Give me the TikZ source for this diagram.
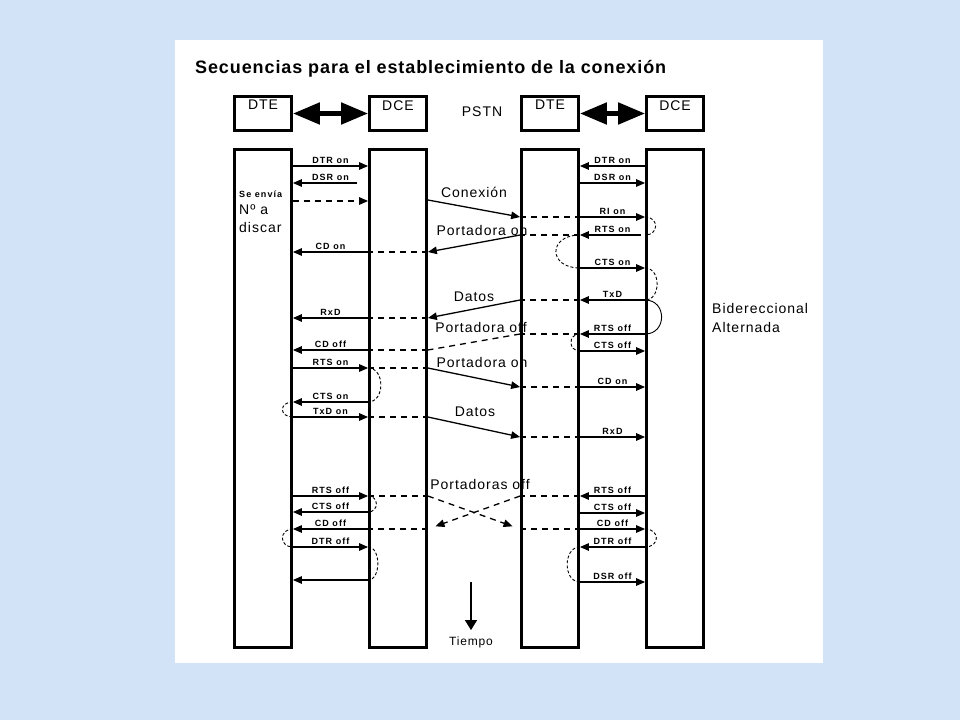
\documentclass[tikz,border=0pt]{standalone}
\usepackage{fontspec}
\setmainfont{Liberation Sans}
\newfontfamily\sigfont[LetterSpace=12]{Liberation Sans}
\newfontfamily\txtfont[LetterSpace=7]{Liberation Sans}
\newfontfamily\ttlfont[LetterSpace=5]{Liberation Sans}
\usetikzlibrary{arrows.meta,positioning}
\definecolor{bgblue}{RGB}{210,227,247}
\tikzset{
  hdr/.style={draw, line width=2.8pt, minimum width=57pt, minimum height=34pt, inner sep=0pt},
  col/.style={draw, line width=2.8pt, minimum width=57pt, minimum height=498pt, inner sep=0pt},
  hdrtxt/.style={font=\txtfont\fontsize{14}{16}\selectfont, inner sep=2pt},
  ptxt/.style={font=\txtfont\fontsize{14}{16}\selectfont, inner sep=0pt},
  lbl/.style={midway, above=1pt, inner sep=1pt, font=\sigfont\bfseries\fontsize{9}{10}\selectfont},
  link/.style={line width=5pt, {Triangle[length=27pt,width=21pt]}-{Triangle[length=27pt,width=21pt]}},
  sig/.style={line width=1.3pt, -{Triangle[length=9pt,width=7.5pt]}},
  dsh/.style={line width=1.3pt, dash pattern=on 6pt off 5pt},
  dsharr/.style={dsh, -{Triangle[length=9pt,width=7.5pt]}},
  loopd/.style={line width=0.9pt, dash pattern=on 3pt off 2pt},
  loops/.style={line width=0.9pt},
  timearr/.style={line width=1.3pt, -{Triangle[length=10pt,width=12pt]}},
}

\begin{document}
\begin{tikzpicture}[x=1pt, y=-1pt]
  \useasboundingbox (0,0) rectangle (960,720);
  \fill[bgblue] (0,0) rectangle (960,720);
  \fill[white] (175,40) rectangle (823,663);
  \node[anchor=base west, inner sep=0pt, font=\ttlfont\bfseries\fontsize{18}{21}\selectfont] (title) at (195,73)
    {Secuencias para el establecimiento de la conexión};

  % line texts (the columns are drawn over them)
  \node[ptxt] (conex) at (474,192) {Conexión};
  \node[ptxt] (pon1) at (482,230) {Portadora on};
  \node[ptxt] (dat1) at (474,297) {Datos};
  \node[ptxt] (poff) at (481,327) {Portadora off};
  \node[ptxt] (pon2) at (482,362) {Portadora on};
  \node[ptxt] (dat2) at (475,412) {Datos};
  \node[ptxt] (poffs) at (480,484) {Portadoras off};

  % headers
  \node[hdr] (hA) at (263,113.5) {};
  \node[hdr] (hB) at (398,113.5) {};
  \node[hdr] (hC) at (550,113.5) {};
  \node[hdr] (hD) at (675,113.5) {};
  \node[hdrtxt, below=3pt of hA.north] (tA) {DTE};
  \node[hdrtxt, below=3pt of hB.north] (tB) {DCE};
  \node[hdrtxt, below=3pt of hC.north] (tC) {DTE};
  \node[hdrtxt, below=3pt of hD.north] (tD) {DCE};
  \node[hdrtxt] (pstn) at (482,112) {PSTN};
  \draw[link] (hA) -- (hB);
  \draw[link] (hC) -- (hD);

  % columns
  \node[col] (colA) at (263,398.5) {};
  \node[col] (colB) at (398,398.5) {};
  \node[col] (colC) at (550,398.5) {};
  \node[col] (colD) at (675,398.5) {};

  % texts inside / beside the columns
  \node[anchor=west, inner sep=0pt, font=\sigfont\bfseries\fontsize{9}{10}\selectfont] (senv) at (239,194) {Se envía};
  \node[anchor=west, inner sep=0pt, align=left, font=\txtfont\fontsize{14}{18}\selectfont] (numa) at (239,219) {Nº a\\discar};
  \node[anchor=west, inner sep=0pt, align=left, font=\txtfont\fontsize{14}{19}\selectfont] (bidir) at (712,317.5) {Bidereccional\\Alternada};

  % left DTE - DCE
  \draw[sig] (colA.east |- 0,166) -- node[lbl]{DTR on} (colB.west |- 0,166);
  \draw[sig, shorten <=11pt] (colB.west |- 0,183) -- node[lbl]{DSR on} (colA.east |- 0,183);
  \draw[dsharr] (colA.east |- 0,201) -- (colB.west |- 0,201);
  \draw[sig] (colB.west |- 0,252) -- node[lbl]{CD on} (colA.east |- 0,252);
  \draw[sig] (colB.west |- 0,318) -- node[lbl]{RxD} (colA.east |- 0,318);
  \draw[sig] (colB.west |- 0,350) -- node[lbl]{CD off} (colA.east |- 0,350);
  \draw[sig] (colA.east |- 0,368) -- node[lbl]{RTS on} (colB.west |- 0,368);
  \draw[sig] (colB.west |- 0,402) -- node[lbl]{CTS on} (colA.east |- 0,402);
  \draw[sig] (colA.east |- 0,417) -- node[lbl]{TxD on} (colB.west |- 0,417);
  \draw[sig] (colA.east |- 0,496) -- node[lbl]{RTS off} (colB.west |- 0,496);
  \draw[sig] (colB.west |- 0,512) -- node[lbl]{CTS off} (colA.east |- 0,512);
  \draw[sig] (colB.west |- 0,529) -- node[lbl]{CD off} (colA.east |- 0,529);
  \draw[sig] (colA.east |- 0,547) -- node[lbl]{DTR off} (colB.west |- 0,547);
  \draw[sig] (colB.west |- 0,580) -- (colA.east |- 0,580);
  \draw[loopd] (colB.west |- 0,368) .. controls +(17,0) and +(17,0) .. (colB.west |- 0,402);
  \draw[loopd] (colA.east |- 0,402) .. controls +(-14,0) and +(-14,0) .. (colA.east |- 0,417);
  \draw[loopd] (colB.west |- 0,496) .. controls +(11,0) and +(11,0) .. (colB.west |- 0,512);
  \draw[loopd] (colA.east |- 0,529) .. controls +(-14,0) and +(-14,0) .. (colA.east |- 0,547);
  \draw[loopd] (colB.west |- 0,547) .. controls +(13,0) and +(13,0) .. (colB.west |- 0,580);

  % right DTE - DCE
  \draw[sig] (colD.west |- 0,166) -- node[lbl]{DTR on} (colC.east |- 0,166);
  \draw[sig] (colC.east |- 0,183) -- node[lbl]{DSR on} (colD.west |- 0,183);
  \draw[sig] (colC.east |- 0,217) -- node[lbl]{RI on} (colD.west |- 0,217);
  \draw[sig, shorten <=4pt] (colD.west |- 0,235) -- node[lbl]{RTS on} (colC.east |- 0,235);
  \draw[sig] (colC.east |- 0,268) -- node[lbl]{CTS on} (colD.west |- 0,268);
  \draw[sig] (colD.west |- 0,300) -- node[lbl]{TxD} (colC.east |- 0,300);
  \draw[sig] (colD.west |- 0,334) -- node[lbl]{RTS off} (colC.east |- 0,334);
  \draw[sig] (colC.east |- 0,351) -- node[lbl]{CTS off} (colD.west |- 0,351);
  \draw[sig] (colC.east |- 0,387) -- node[lbl]{CD on} (colD.west |- 0,387);
  \draw[sig] (colC.east |- 0,437) -- node[lbl]{RxD} (colD.west |- 0,437);
  \draw[sig] (colD.west |- 0,496) -- node[lbl]{RTS off} (colC.east |- 0,496);
  \draw[sig] (colC.east |- 0,513) -- node[lbl]{CTS off} (colD.west |- 0,513);
  \draw[sig] (colC.east |- 0,529) -- node[lbl]{CD off} (colD.west |- 0,529);
  \draw[sig] (colD.west |- 0,547) -- node[lbl]{DTR off} (colC.east |- 0,547);
  \draw[sig] (colC.east |- 0,582) -- node[lbl]{DSR off} (colD.west |- 0,582);
  \draw[loopd] (colD.west |- 0,217) .. controls +(14,0) and +(14,0) .. (colD.west |- 0,235);
  \draw[loopd] (colC.east |- 0,235) .. controls +(-32,0) and +(-32,0) .. (colC.east |- 0,268);
  \draw[loopd] (colD.west |- 0,268) .. controls +(16,0) and +(16,0) .. (colD.west |- 0,300);
  \draw[loops] (colD.west |- 0,300) .. controls +(22,0) and +(22,0) .. (colD.west |- 0,334);
  \draw[loopd] (colC.east |- 0,334) .. controls +(-12,0) and +(-12,0) .. (colC.east |- 0,351);
  \draw[loopd] (colD.west |- 0,529) .. controls +(15,0) and +(15,0) .. (colD.west |- 0,547);
  \draw[loopd] (colC.east |- 0,547) .. controls +(-17,0) and +(-17,0) .. (colC.east |- 0,582);

  % through the PSTN
  \draw[sig] (colB.east |- 0,200) -- (colC.west |- 0,217);
  \draw[dsh] (colC.west |- 0,217) -- (colC.east |- 0,217);
  \draw[dsh] (colC.east |- 0,235) -- (colC.west |- 0,235);
  \draw[sig] (colC.west |- 0,235) -- (colB.east |- 0,252);
  \draw[dsh] (colB.east |- 0,252) -- (colB.west |- 0,252);
  \draw[dsh] (colC.east |- 0,300) -- (colC.west |- 0,300);
  \draw[sig] (colC.west |- 0,300) -- (colB.east |- 0,318);
  \draw[dsh] (colB.east |- 0,318) -- (colB.west |- 0,318);
  \draw[dsh] (colC.east |- 0,334) -- (colC.west |- 0,334);
  \draw[dsh] (colC.west |- 0,334) -- (colB.east |- 0,350);
  \draw[dsh] (colB.east |- 0,350) -- (colB.west |- 0,350);
  \draw[dsh] (colB.west |- 0,368) -- (colB.east |- 0,368);
  \draw[sig] (colB.east |- 0,368) -- (colC.west |- 0,387);
  \draw[dsh] (colC.west |- 0,387) -- (colC.east |- 0,387);
  \draw[dsh] (colB.west |- 0,417) -- (colB.east |- 0,417);
  \draw[sig] (colB.east |- 0,417) -- (colC.west |- 0,437);
  \draw[dsh] (colC.west |- 0,437) -- (colC.east |- 0,437);
  \draw[dsh] (colB.west |- 0,496) -- (colB.east |- 0,496);
  \draw[dsh] (colC.east |- 0,496) -- (colC.west |- 0,496);
  \draw[dsharr, shorten >=8pt] (colB.east |- 0,496) -- (colC.west |- 0,529);
  \draw[dsharr, shorten >=8pt] (colC.west |- 0,496) -- (colB.east |- 0,529);
  \draw[dsh] (colB.east |- 0,529) -- (colB.west |- 0,529);
  \draw[dsh] (colC.west |- 0,529) -- (colC.east |- 0,529);

  % time
  \node[anchor=base, inner sep=0pt, font=\txtfont\fontsize{12}{14}\selectfont] (tiempo) at (471,645) {Tiempo};
  \coordinate (tstart) at (471,582);
  \draw[timearr, shorten >=6pt] (tstart) -- (tiempo.north);
\end{tikzpicture}
\end{document}
